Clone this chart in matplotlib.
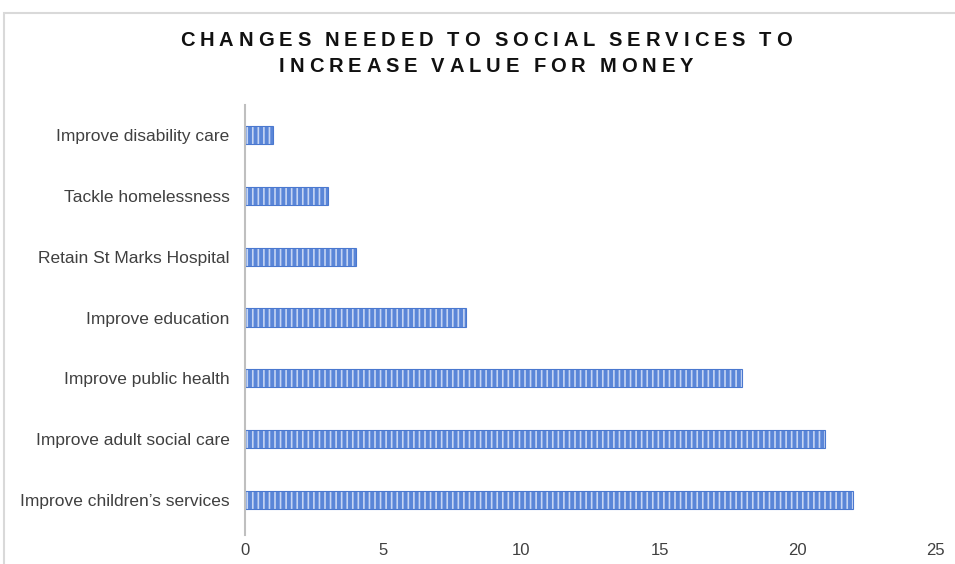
import matplotlib
matplotlib.use("Agg")
import matplotlib.pyplot as plt
from matplotlib.patches import Rectangle

categories = [
    "Improve children\u2019s services",
    "Improve adult social care",
    "Improve public health",
    "Improve education",
    "Retain St Marks Hospital",
    "Tackle homelessness",
    "Improve disability care",
]
values = [22, 21, 18, 8, 4, 3, 1]
x_ticks = [0, 5, 10, 15, 20, 25]
title_lines = ["CHANGES NEEDED TO SOCIAL SERVICES TO", "INCREASE VALUE FOR MONEY"]

plt.rcParams["font.family"] = ["Liberation Sans", "DejaVu Sans"]
plt.rcParams["hatch.linewidth"] = 1.2

W, H = 955, 564
fig = plt.figure(figsize=(W / 100, H / 100), dpi=100)
ax = fig.add_axes([0.2565, 0.0594, 0.7235, 0.7553])

# outer chart frame (open to the right and bottom)
fig.patches.append(Rectangle((4 / W, -0.1), 1.2, 1 - 13 / H + 0.1,
                             transform=fig.transFigure, fill=False,
                             edgecolor="#d9d9d9", linewidth=1.5))

ypos = list(range(len(categories)))
ax.barh(ypos, values, height=0.3, color="#5A86D8", edgecolor="#C6D5F3",
        hatch="|||", linewidth=0)
ax.barh(ypos, values, height=0.3, fill=False, edgecolor="#4A78CF", linewidth=0.8)

ax.set_xlim(0, 25)
ax.set_ylim(-0.5, len(categories) - 0.5)
ax.set_yticks(ypos)
ax.set_yticklabels(categories, fontsize=12.5, color="#404040")
ax.set_xticks(x_ticks)
ax.set_xticklabels([str(t) for t in x_ticks], fontsize=12, color="#404040")
ax.tick_params(axis="both", length=0)
ax.tick_params(axis="y", pad=11)
ax.tick_params(axis="x", pad=9)

for side in ("top", "right", "bottom"):
    ax.spines[side].set_visible(False)
ax.spines["left"].set_color("#bfbfbf")
ax.spines["left"].set_linewidth(1.5)
ax.spines["left"].set_bounds(-0.58, len(categories) - 0.5)

# letter-spaced bold title, laid out character by character
renderer = fig.canvas.get_renderer()
title_kw = dict(fontsize=14.5, fontweight="bold", color="#111111", va="center", ha="left")


def char_width(ch):
    if ch == " ":
        a = fig.text(0, 0, "AA", **title_kw)
        b = fig.text(0, 0, "A A", **title_kw)
        w = b.get_window_extent(renderer).width - a.get_window_extent(renderer).width
        a.remove()
        b.remove()
        return w
    t = fig.text(0, 0, ch, **title_kw)
    w = t.get_window_extent(renderer).width
    t.remove()
    return w


widths = [[char_width(c) for c in line] for line in title_lines]
spacing = (612 - sum(widths[0])) / (len(title_lines[0]) - 1)
cx = 486
for line, ws, yc in zip(title_lines, widths, [41, 66]):
    total = sum(ws) + spacing * (len(line) - 1)
    x = cx - total / 2
    for ch, w in zip(line, ws):
        if ch != " ":
            fig.text(x / W, 1 - yc / H, ch, **title_kw)
        x += w + spacing

fig.savefig("out.png", dpi=100, facecolor="white")
